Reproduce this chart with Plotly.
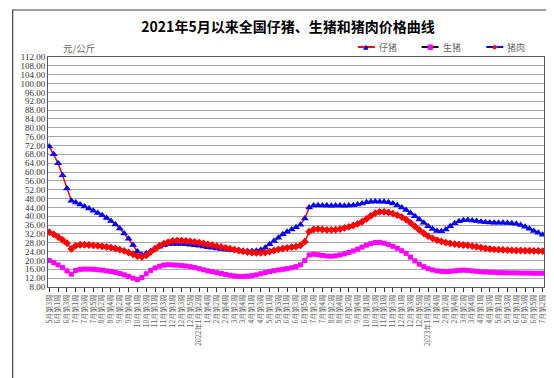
import plotly.graph_objects as go

# week structure (year, month, number of weeks) starting 2021 May week 3
months = [
    (2021, 5, 2), (2021, 6, 4), (2021, 7, 5), (2021, 8, 4), (2021, 9, 5), (2021, 10, 4), (2021, 11, 4), (2021, 12, 5),
    (2022, 1, 4), (2022, 2, 4), (2022, 3, 5), (2022, 4, 4), (2022, 5, 4), (2022, 6, 5), (2022, 7, 4), (2022, 8, 4),
    (2022, 9, 5), (2022, 10, 4), (2022, 11, 4), (2022, 12, 5),
    (2023, 1, 4), (2023, 2, 4), (2023, 3, 5), (2023, 4, 4), (2023, 5, 4), (2023, 6, 5), (2023, 7, 2),
]

week_labels = []
for (yr, mo, n) in months:
    start = 3 if (yr == 2021 and mo == 5) else 1
    for w in range(start, start + n):
        lab = f"{mo}月第{w}周"
        if mo == 1 and yr > 2021 and w == 2:
            lab = f"{yr}年" + lab
        week_labels.append(lab)

piglet = [
    71.5, 68.0, 64.0, 58.5, 52.5, 47.0, 46.2, 45.3, 44.4, 43.5,
    42.5, 41.5, 40.4, 39.2, 37.8, 36.3, 34.5, 32.2, 29.8, 27.0,
    24.0, 22.6, 23.3, 24.3, 25.3, 26.2, 26.9, 27.3, 27.5, 27.5,
    27.4, 27.3, 27.1, 26.9, 26.6, 26.3, 26.0, 25.7, 25.4, 25.2,
    25.0, 24.8, 24.6, 24.5, 24.4, 24.3, 24.3, 24.4, 24.8, 25.8,
    27.3, 28.8, 30.3, 31.8, 33.0, 34.0, 35.0, 36.2, 39.0, 44.0,
    44.8, 45.0, 44.9, 44.8, 44.7, 44.8, 44.8, 44.7, 44.8, 45.0,
    45.3, 45.8, 46.3, 46.6, 46.7, 46.6, 46.5, 46.3, 45.8, 45.0,
    44.0, 42.8, 41.5, 40.0, 38.5, 37.0, 35.5, 34.2, 33.3, 33.2,
    34.0, 35.5, 36.8, 37.7, 38.2, 38.3, 38.1, 37.8, 37.5, 37.3,
    37.2, 37.1, 37.0, 37.0, 36.9, 36.8, 36.6, 36.0, 35.2, 34.3,
    33.3, 32.5, 31.6,
]

hog = [
    20.0, 19.0, 18.0, 16.8, 15.3, 13.8, 15.5, 16.0, 16.1, 16.1,
    16.0, 15.8, 15.6, 15.3, 15.0, 14.6, 14.1, 13.5, 12.8, 12.0,
    11.4, 12.3, 14.0, 15.5, 16.6, 17.4, 17.9, 18.1, 18.0, 17.9,
    17.7, 17.5, 17.2, 16.8, 16.3, 15.8, 15.3, 14.9, 14.5, 14.1,
    13.7, 13.3, 13.0, 12.8, 12.8, 12.9, 13.1, 13.5, 14.0, 14.5,
    15.0, 15.4, 15.7, 16.0, 16.3, 16.7, 17.2, 18.0, 20.0, 22.5,
    22.8, 22.6, 22.3, 22.0, 21.9, 22.1, 22.5, 23.0, 23.6, 24.3,
    25.1, 26.0, 26.9, 27.6, 28.1, 28.2, 27.8, 27.2, 26.4, 25.5,
    24.4, 23.2, 21.5, 19.8, 18.3, 17.2, 16.3, 15.7, 15.3, 15.1,
    15.0, 15.1, 15.3, 15.5, 15.6, 15.5, 15.3, 15.1, 14.9, 14.8,
    14.7, 14.6, 14.5, 14.5, 14.4, 14.4, 14.4, 14.3, 14.3, 14.3,
    14.2, 14.2, 14.2,
]

pork = [
    32.8, 31.8, 30.6, 29.3, 27.8, 25.2, 26.7, 27.1, 27.1, 27.0,
    26.8, 26.6, 26.4, 26.1, 25.8, 25.4, 24.9, 24.3, 23.6, 22.8,
    22.0, 21.6, 22.3, 23.8, 25.3, 26.6, 27.6, 28.3, 28.8, 29.0,
    29.0, 28.8, 28.6, 28.4, 28.1, 27.7, 27.3, 26.9, 26.5, 26.1,
    25.7, 25.3, 24.9, 24.5, 24.1, 23.8, 23.5, 23.4, 23.4, 23.6,
    24.0, 24.5, 25.0, 25.4, 25.7, 26.0, 26.3, 26.8, 28.5, 33.0,
    34.0, 34.2, 34.0, 33.8, 33.8, 33.9, 34.2, 34.7, 35.2, 35.8,
    36.5, 37.5, 38.8, 40.2, 41.4, 42.0, 42.0, 41.7, 41.2, 40.5,
    39.6, 38.5, 37.0, 35.4, 33.8, 32.3, 31.0, 30.0, 29.2, 28.6,
    28.1, 27.7, 27.4, 27.2, 27.0, 26.8, 26.5, 26.2, 25.8, 25.5,
    25.2, 25.0, 24.9, 24.8, 24.7, 24.6, 24.5, 24.5, 24.4, 24.4,
    24.3, 24.3, 24.2,
]

y_ticks = list(range(8, 113, 4))

n = min(len(week_labels), len(piglet), len(hog), len(pork))
x = list(range(n))

fig = go.Figure()
fig.add_trace(go.Scatter(
    x=x, y=piglet[:n], name="仔猪", mode="lines+markers",
    line=dict(color="#ff0000", width=1.5),
    marker=dict(symbol="triangle-up", size=7, color="#0000ff"),
))
fig.add_trace(go.Scatter(
    x=x, y=hog[:n], name="生猪", mode="lines+markers",
    line=dict(color="#ff00ff", width=1.5),
    marker=dict(symbol="square", size=5, color="#ff00ff"),
))
fig.add_trace(go.Scatter(
    x=x, y=pork[:n], name="猪肉", mode="lines+markers",
    line=dict(color="#ff0000", width=1.5),
    marker=dict(symbol="diamond", size=6, color="#ff0000"),
))

L, R, T, B = 37.5, 536.0, 49.0, 279.0
W, H = 554, 378
pw, ph = R - L, B - T

def px(v):
    return (v - L) / pw

def py(v):
    return (B - v) / ph

fig.update_layout(
    width=W, height=H,
    margin=dict(l=L, r=W - R, t=T, b=H - B, pad=0),
    paper_bgcolor="white", plot_bgcolor="white",
    title=dict(text="<b>2021年5月以来全国仔猪、生猪和猪肉价格曲线</b>", x=280 / W, xanchor="center",
               y=1 - 19 / H, yanchor="middle",
               font=dict(family="Noto Sans CJK SC", size=14, color="black")),
    showlegend=False,
    font=dict(family="Noto Sans CJK SC"),
)

fig.update_xaxes(
    range=[-0.3, n - 1 + 0.3],
    tickmode="array", tickvals=x[::2], ticktext=week_labels[:n:2],
    tickangle=-90, tickfont=dict(family="Noto Sans CJK SC", size=7, color="#666666"),
    ticks="outside", ticklen=4, tickcolor="#333333",
    showgrid=False, zeroline=False,
    showline=True, linecolor="#555555", linewidth=1, mirror=True,
)
fig.update_yaxes(
    range=[8, 112],
    tickmode="array", tickvals=y_ticks, ticktext=[f"{v:.2f}" for v in y_ticks],
    tickfont=dict(family="Liberation Serif", size=9, color="#333333"),
    ticks="", showgrid=True, gridcolor="#a8a8a8", gridwidth=1,
    zeroline=False, showline=True, linecolor="#555555", linewidth=1, mirror=True,
)

fig.add_annotation(text="元/公斤", xref="paper", yref="paper", x=px(51), y=py(40),
                   xanchor="left", yanchor="middle", showarrow=False,
                   font=dict(family="Noto Sans CJK SC", size=9.5, color="#666666"))

# manual legend (line colour, marker glyph, marker colour, text)
legend_items = [
    ("仔猪", 349, "#ff0000", "▲", "#0000ff"),
    ("生猪", 413, "#000000", "■", "#ff00ff"),
    ("猪肉", 478, "#0000ff", "◆", "#ff0000"),
]
ly = 39
for name, x0, lc, glyph, mc in legend_items:
    fig.add_shape(type="line", xref="paper", yref="paper",
                  x0=px(x0), x1=px(x0 + 17), y0=py(ly), y1=py(ly),
                  line=dict(color=lc, width=2))
    fig.add_annotation(text=glyph, xref="paper", yref="paper", x=px(x0 + 8.5), y=py(ly),
                       xanchor="center", yanchor="middle", showarrow=False,
                       font=dict(family="DejaVu Sans", size=7, color=mc))
    fig.add_annotation(text=name, xref="paper", yref="paper", x=px(x0 + 19), y=py(ly),
                       xanchor="left", yanchor="middle", showarrow=False,
                       font=dict(family="Noto Sans CJK SC", size=9, color="#666666"))

# outer chart frame
fig.add_shape(type="rect", xref="paper", yref="paper",
              x0=px(2), x1=px(551), y0=py(373), y1=py(2),
              line=dict(color="#404040", width=1.2), layer="below")

fig.write_html("out.html")
